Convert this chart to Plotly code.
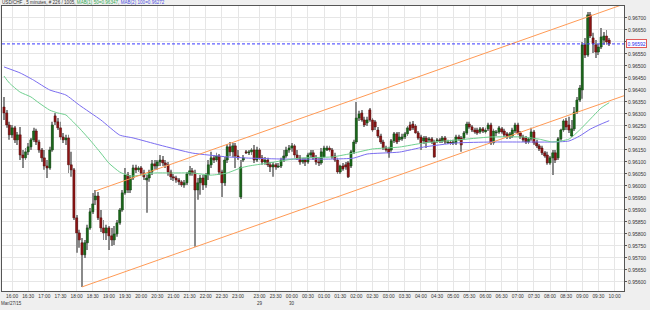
import plotly.graph_objects as go

# ---------------- data (USD/CHF, 5-minute bars, 226 bars) ----------------
open_ = [0.96329,0.96304,0.96254,0.96213,0.96242,0.96192,0.96213,0.96129,0.96117,0.96142,
0.96163,0.96192,0.96229,0.96183,0.96150,0.96117,0.96083,0.96075,0.96150,0.96292,
0.96267,0.96242,0.96204,0.96192,0.96200,0.96088,0.96067,0.95867,0.95804,0.95763,
0.95713,0.95763,0.95825,0.95892,0.95942,0.95958,0.95867,0.95825,0.95804,0.95825,
0.95792,0.95775,0.95800,0.95846,0.95900,0.95971,0.96046,0.95983,0.96033,0.96075,
0.96067,0.96075,0.96054,0.96025,0.96033,0.96058,0.96092,0.96083,0.96100,0.96108,
0.96096,0.96088,0.96058,0.96038,0.96033,0.96025,0.96017,0.96004,0.96013,0.96050,
0.96063,0.96054,0.95983,0.96013,0.96033,0.96004,0.96046,0.96088,0.96117,0.96108,
0.96125,0.96058,0.96013,0.96108,0.96163,0.96142,0.96167,0.96125,0.95954,0.96108,
0.96142,0.96138,0.96142,0.96150,0.96108,0.96150,0.96117,0.96100,0.96108,0.96088,
0.96079,0.96088,0.96079,0.96083,0.96108,0.96125,0.96150,0.96158,0.96167,0.96129,
0.96117,0.96100,0.96108,0.96100,0.96129,0.96138,0.96117,0.96100,0.96096,0.96121,
0.96150,0.96158,0.96150,0.96125,0.96108,0.96058,0.96083,0.96088,0.96096,0.96083,
0.96142,0.96183,0.96283,0.96304,0.96275,0.96263,0.96317,0.96275,0.96267,0.96233,
0.96208,0.96183,0.96158,0.96154,0.96150,0.96188,0.96217,0.96192,0.96196,0.96204,
0.96217,0.96254,0.96258,0.96250,0.96221,0.96204,0.96188,0.96200,0.96192,0.96196,
0.96183,0.96188,0.96192,0.96188,0.96200,0.96179,0.96183,0.96179,0.96179,0.96204,
0.96200,0.96200,0.96221,0.96258,0.96246,0.96233,0.96233,0.96225,0.96238,0.96225,
0.96238,0.96254,0.96179,0.96221,0.96225,0.96238,0.96229,0.96217,0.96204,0.96208,
0.96229,0.96254,0.96221,0.96204,0.96200,0.96183,0.96196,0.96225,0.96183,0.96167,
0.96158,0.96138,0.96129,0.96096,0.96117,0.96138,0.96117,0.96196,0.96233,0.96271,
0.96254,0.96208,0.96238,0.96308,0.96358,0.96400,0.96588,0.96546,0.96713,0.96617,
0.96588,0.96558,0.96579,0.96608,0.96625,0.96608]

high = [0.96371,0.96317,0.96267,0.96254,0.96250,0.96225,0.96246,0.96150,0.96158,0.96179,
0.96200,0.96242,0.96238,0.96192,0.96158,0.96150,0.96108,0.96163,0.96267,0.96304,
0.96283,0.96267,0.96221,0.96213,0.96213,0.96142,0.96075,0.95879,0.95817,0.95783,
0.95775,0.95838,0.95908,0.95971,0.95983,0.95975,0.95900,0.95858,0.95838,0.95833,
0.95825,0.95833,0.95858,0.95908,0.95983,0.96075,0.96058,0.96046,0.96088,0.96088,
0.96083,0.96083,0.96067,0.96046,0.96067,0.96108,0.96108,0.96108,0.96129,0.96125,
0.96108,0.96100,0.96067,0.96050,0.96042,0.96033,0.96025,0.96025,0.96058,0.96083,
0.96075,0.96067,0.96033,0.96046,0.96046,0.96054,0.96108,0.96142,0.96129,0.96138,
0.96133,0.96067,0.96121,0.96175,0.96183,0.96179,0.96179,0.96150,0.96108,0.96129,
0.96150,0.96150,0.96158,0.96171,0.96163,0.96158,0.96129,0.96121,0.96117,0.96100,
0.96100,0.96096,0.96096,0.96117,0.96150,0.96163,0.96171,0.96179,0.96175,0.96150,
0.96129,0.96117,0.96117,0.96138,0.96150,0.96150,0.96129,0.96117,0.96158,0.96167,
0.96167,0.96167,0.96158,0.96138,0.96117,0.96088,0.96096,0.96100,0.96104,0.96150,
0.96192,0.96350,0.96313,0.96317,0.96288,0.96288,0.96325,0.96283,0.96275,0.96246,
0.96217,0.96192,0.96167,0.96163,0.96196,0.96225,0.96225,0.96225,0.96217,0.96225,
0.96250,0.96267,0.96271,0.96258,0.96229,0.96213,0.96208,0.96208,0.96204,0.96204,
0.96192,0.96200,0.96200,0.96208,0.96208,0.96192,0.96192,0.96192,0.96213,0.96213,
0.96208,0.96229,0.96267,0.96267,0.96254,0.96242,0.96242,0.96246,0.96246,0.96242,
0.96263,0.96263,0.96238,0.96233,0.96250,0.96246,0.96238,0.96225,0.96225,0.96242,
0.96263,0.96263,0.96229,0.96213,0.96208,0.96204,0.96242,0.96233,0.96192,0.96175,
0.96167,0.96146,0.96142,0.96125,0.96150,0.96150,0.96204,0.96238,0.96279,0.96283,
0.96288,0.96275,0.96329,0.96371,0.96421,0.96600,0.96617,0.96725,0.96725,0.96638,
0.96608,0.96592,0.96658,0.96642,0.96650,0.96617]

low = [0.96275,0.96242,0.96192,0.96200,0.96179,0.96171,0.96108,0.96075,0.96108,0.96129,
0.96150,0.96183,0.96171,0.96138,0.96100,0.96067,0.96033,0.96067,0.96142,0.96254,
0.96233,0.96192,0.96179,0.96171,0.96054,0.96038,0.95858,0.95721,0.95742,0.95579,
0.95700,0.95733,0.95817,0.95883,0.95921,0.95858,0.95808,0.95775,0.95775,0.95733,
0.95750,0.95754,0.95788,0.95838,0.95892,0.95963,0.95971,0.95971,0.96025,0.96054,
0.96058,0.96046,0.96025,0.95888,0.96017,0.96046,0.96067,0.96067,0.96083,0.96083,
0.96075,0.96042,0.96025,0.96021,0.96013,0.96004,0.95996,0.95992,0.96004,0.96042,
0.96042,0.95746,0.95942,0.95963,0.95983,0.95992,0.96025,0.96075,0.96096,0.96100,
0.96046,0.95954,0.96000,0.96096,0.96125,0.96121,0.96075,0.96108,0.95946,0.96100,
0.96133,0.96129,0.96129,0.96096,0.96100,0.96108,0.96088,0.96088,0.96079,0.96058,
0.96038,0.96067,0.96075,0.96075,0.96100,0.96117,0.96138,0.96142,0.96117,0.96108,
0.96088,0.96092,0.96083,0.96092,0.96117,0.96108,0.96088,0.96083,0.96088,0.96117,
0.96146,0.96142,0.96113,0.96100,0.96050,0.96050,0.96063,0.96067,0.96033,0.96075,
0.96133,0.96175,0.96271,0.96267,0.96246,0.96250,0.96267,0.96225,0.96233,0.96200,
0.96175,0.96150,0.96142,0.96117,0.96142,0.96179,0.96175,0.96183,0.96188,0.96196,
0.96208,0.96229,0.96233,0.96217,0.96192,0.96150,0.96175,0.96158,0.96183,0.96175,
0.96117,0.96179,0.96179,0.96179,0.96175,0.96175,0.96171,0.96171,0.96171,0.96188,
0.96142,0.96192,0.96213,0.96238,0.96225,0.96217,0.96213,0.96217,0.96221,0.96217,
0.96229,0.96171,0.96171,0.96208,0.96217,0.96217,0.96204,0.96196,0.96196,0.96200,
0.96221,0.96213,0.96196,0.96183,0.96175,0.96175,0.96188,0.96171,0.96158,0.96146,
0.96129,0.96117,0.96088,0.96088,0.96046,0.96096,0.96108,0.96188,0.96225,0.96233,
0.96221,0.96204,0.96229,0.96300,0.96350,0.96363,0.96533,0.96538,0.96617,0.96554,
0.96533,0.96546,0.96571,0.96588,0.96588,0.96583]

close = [0.96304,0.96254,0.96213,0.96242,0.96192,0.96213,0.96129,0.96117,0.96142,0.96163,
0.96192,0.96229,0.96183,0.96150,0.96117,0.96083,0.96075,0.96150,0.96254,0.96267,
0.96242,0.96204,0.96192,0.96200,0.96088,0.96067,0.95867,0.95804,0.95775,0.95713,
0.95763,0.95825,0.95892,0.95925,0.95958,0.95867,0.95825,0.95804,0.95825,0.95792,
0.95775,0.95800,0.95846,0.95900,0.95971,0.96046,0.95983,0.96033,0.96075,0.96067,
0.96075,0.96054,0.96038,0.96033,0.96058,0.96092,0.96083,0.96100,0.96108,0.96096,
0.96088,0.96058,0.96038,0.96033,0.96025,0.96017,0.96004,0.96013,0.96050,0.96063,
0.96054,0.95983,0.96013,0.96033,0.96004,0.96046,0.96088,0.96117,0.96108,0.96125,
0.96058,0.96013,0.96108,0.96163,0.96142,0.96167,0.96125,0.96117,0.96079,0.96117,
0.96138,0.96142,0.96150,0.96108,0.96150,0.96117,0.96100,0.96108,0.96088,0.96079,
0.96088,0.96079,0.96083,0.96108,0.96125,0.96150,0.96158,0.96167,0.96129,0.96117,
0.96100,0.96108,0.96100,0.96129,0.96138,0.96117,0.96100,0.96096,0.96142,0.96158,
0.96158,0.96150,0.96121,0.96108,0.96058,0.96083,0.96071,0.96079,0.96038,0.96142,
0.96183,0.96283,0.96300,0.96275,0.96254,0.96275,0.96275,0.96233,0.96246,0.96208,
0.96183,0.96158,0.96150,0.96138,0.96188,0.96217,0.96183,0.96204,0.96204,0.96217,
0.96242,0.96233,0.96242,0.96221,0.96200,0.96179,0.96200,0.96183,0.96196,0.96183,
0.96121,0.96192,0.96188,0.96200,0.96183,0.96183,0.96179,0.96183,0.96204,0.96196,
0.96171,0.96221,0.96258,0.96246,0.96233,0.96225,0.96221,0.96238,0.96229,0.96233,
0.96254,0.96179,0.96229,0.96225,0.96242,0.96225,0.96213,0.96204,0.96217,0.96233,
0.96254,0.96221,0.96204,0.96192,0.96183,0.96196,0.96225,0.96179,0.96167,0.96154,
0.96138,0.96125,0.96096,0.96117,0.96138,0.96108,0.96196,0.96233,0.96271,0.96246,
0.96233,0.96238,0.96308,0.96358,0.96408,0.96588,0.96546,0.96713,0.96625,0.96592,
0.96558,0.96579,0.96621,0.96625,0.96600,0.96592]

# moving averages (read at sampled bars)
ma50_x = [0,2,6,10,13,17,20,23,25,28,32,36,39,43,47,51,56,62,70,77,83,88,91,98,110,122,130,137,147,156,168,181,193,199,204,210,214,218,222,225]
ma50_y = [0.96458,0.96429,0.96391,0.96371,0.96346,0.96316,0.96304,0.96296,0.96275,0.96241,
          0.96191,0.96137,0.96095,0.96058,0.96041,0.96045,0.96054,0.96054,0.96054,0.96045,
          0.96054,0.96075,0.96083,0.96095,0.96116,0.96121,0.96137,0.96154,0.96162,0.96179,
          0.96191,0.96204,0.96204,0.96195,0.96183,0.96195,0.96233,0.96279,0.96325,0.96347]
ma100_x = [0,6,11,17,23,28,36,43,48,58,70,83,91,104,122,130,135,147,156,168,181,193,203,210,214,218,222,225]
ma100_y = [0.96496,0.96471,0.96441,0.96400,0.96379,0.96337,0.96275,0.96212,0.96200,0.96170,
           0.96137,0.96121,0.96116,0.96112,0.96112,0.96116,0.96133,0.96141,0.96162,0.96179,
           0.96183,0.96183,0.96183,0.96187,0.96208,0.96237,0.96258,0.96272]

# trend channel anchors (bar index, price)
channel_lower_x = [29, 230.5]
channel_lower_y = [0.95579, 0.96376]
channel_upper_x = [34, 230.5]
channel_upper_y = [0.95979, 0.96758]

last_price = 0.96592

x_tick_pos = [3,9,15,21,27,33,39,45,51,57,63,69,75,81,87,
              95,101,107,113,119,125,131,137,143,149,155,161,167,173,179,185,191,197,203,209,215,221,227]
x_tick_text = ["16:00","16:30","17:00","17:30","18:00","18:30","19:00","19:30","20:00","20:30",
               "21:00","21:30","22:00","22:30","23:00",
               "23:00","23:30","00:00","00:30","01:00","01:30","02:00","02:30","03:00","03:30",
               "04:00","04:30","05:00","05:30","06:00","06:30","07:00","07:30","08:00","08:30",
               "09:00","09:30","10:00"]
date_labels = ["29", "30"]
date_label_pos = [95, 107]
first_date = "Mar/27/15"

y_ticks = [0.95600,0.95650,0.95700,0.95750,0.95800,0.95850,0.95900,0.95950,0.96000,0.96050,
           0.96100,0.96150,0.96200,0.96250,0.96300,0.96350,0.96400,0.96450,0.96500,0.96550,
           0.96600,0.96650,0.96700]
# the 0.96600 label is hidden behind the last-price marker in the original
y_tick_text = ["0.95600","0.95650","0.95700","0.95750","0.95800","0.95850","0.95900","0.95950",
               "0.96000","0.96050","0.96100","0.96150","0.96200","0.96250","0.96300","0.96350",
               "0.96400","0.96450","0.96500","0.96550","","0.96650","0.96700"]

header = ("USD/CHF , 5 minutes, # 226 / 1005, "
          "<span style='color:#33aa55'>MAB(1) 50=0.96347</span>, "
          "<span style='color:#5050e0'>MAB(2) 100=0.96272</span>")

# ---------------- figure ----------------
idx = list(range(len(close)))
up = [c >= o for o, c in zip(open_, close)]
body_col = ["#1a6a1a" if u else "#8e1414" for u in up]
edge_col = ["#0e3e0e" if u else "#4e0a0a" for u in up]

fig = go.Figure()
# wicks
fig.add_trace(go.Bar(
    x=idx, base=low, y=[h - l for h, l in zip(high, low)], width=0.34,
    marker=dict(color="#8a8a8a", line=dict(width=0)), hoverinfo="skip"))
# bodies
fig.add_trace(go.Bar(
    x=idx, base=[min(o, c) for o, c in zip(open_, close)],
    y=[abs(c - o) for o, c in zip(open_, close)], width=0.8,
    marker=dict(color=body_col, line=dict(color=edge_col, width=0.5)), hoverinfo="skip"))
# moving averages
fig.add_trace(go.Scatter(x=ma100_x, y=ma100_y, mode="lines",
                         line=dict(color="#7a6cf0", width=1, shape="spline", smoothing=0.5)))
fig.add_trace(go.Scatter(x=ma50_x, y=ma50_y, mode="lines",
                         line=dict(color="#6fd08f", width=1, shape="spline", smoothing=0.5)))
# channel
fig.add_trace(go.Scatter(x=channel_upper_x, y=channel_upper_y, mode="lines",
                         line=dict(color="#ff9a55", width=1)))
fig.add_trace(go.Scatter(x=channel_lower_x, y=channel_lower_y, mode="lines",
                         line=dict(color="#ff9a55", width=1)))

fig.add_shape(type="line", xref="paper", x0=0, x1=1, yref="y", y0=last_price, y1=last_price,
              line=dict(color="#3a3aff", width=1, dash="3px,2px"))

annotations = [
    dict(text=header, xref="paper", yref="paper", x=0, y=1, xanchor="left", yanchor="bottom",
         xshift=-2, yshift=-1, showarrow=False, font=dict(size=4.6, color="#333333")),
    dict(text=f"{last_price:.5f}", xref="paper", yref="y", x=1, y=last_price, xanchor="left",
         xshift=2, showarrow=False, font=dict(size=5, color="#2a2aee"),
         bgcolor="white", bordercolor="#e05a5a", borderwidth=1, borderpad=0.5),
    dict(text=first_date, xref="paper", yref="paper", x=0, y=0, xanchor="left", yanchor="top",
         xshift=-3, yshift=-8, showarrow=False, font=dict(size=4.5, color="#333333")),
]
for t, p in zip(date_labels, date_label_pos):
    annotations.append(dict(text=t, xref="x", yref="paper", x=p, y=0, xanchor="center",
                            yanchor="top", yshift=-8, showarrow=False,
                            font=dict(size=4.5, color="#333333")))

fig.update_layout(
    width=650, height=310,
    margin=dict(l=2, r=26, t=6, b=19),
    paper_bgcolor="#efefef", plot_bgcolor="white",
    showlegend=False, barmode="overlay",
    font=dict(family="Liberation Sans, Arial, sans-serif", color="#333333"),
    annotations=annotations,
    xaxis=dict(range=[-0.74, 230.5], tickmode="array", tickvals=x_tick_pos, ticktext=x_tick_text,
               tickangle=0, tickfont=dict(size=4.8), showgrid=True, gridcolor="#e6e6e6",
               gridwidth=1, zeroline=False, showline=True, linecolor="#555555", linewidth=1,
               mirror=True, ticks="", automargin=False),
    yaxis=dict(range=[0.95562, 0.96750], side="right", tickmode="array", tickvals=y_ticks,
               ticktext=y_tick_text, tickfont=dict(size=5), ticks="outside", ticklen=2,
               tickcolor="#555555", showgrid=True, gridcolor="#e6e6e6", gridwidth=1,
               zeroline=False, showline=True, linecolor="#555555", linewidth=1, mirror=True,
               automargin=False),
)

fig.write_html("out.html")
